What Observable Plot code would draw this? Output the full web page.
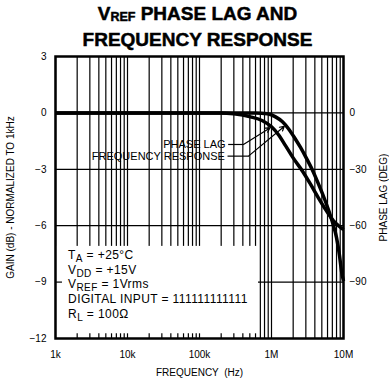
<!DOCTYPE html>
<html>
<head>
<meta charset="utf-8">
<script src="https://cdn.jsdelivr.net/npm/d3@7"></script>
<script src="https://cdn.jsdelivr.net/npm/@observablehq/plot@0.6"></script>
<style>
  body { margin: 0; background: #fff; width: 389px; height: 379px; overflow: hidden;
         font-family: "Liberation Sans", Arial, sans-serif; color: #000; }
  #title { height: 50px; box-sizing: border-box; padding-top: 2px; padding-left: 6px;
           text-align: center; font-weight: bold; font-size: 19px; line-height: 24px;
           -webkit-text-stroke: 0.5px #000; }
  #title .sub { font-size: 12.5px; position: relative; top: 1px; }
  #chart svg { display: block; }
</style>
</head>
<body>
<div id="title"><div>V<span class="sub">REF</span> PHASE LAG AND</div><div>FREQUENCY RESPONSE</div></div>
<div id="chart"></div>
<script>
// Axis ticks
const decadeTicks = [1e3, 1e4, 1e5, 1e6, 1e7];
const decadeLabels = ["1k", "10k", "100k", "1M", "10M"];
const gainTicks = [3, 0, -3, -6, -9, -12];
const phaseTicks = [0, -30, -60, -90];

// Frequency response (gain, dB, normalized to 1kHz)
const gainFreq = [1e3, 1e4, 1e5, 3e5, 6e5, 8.8e5, 1.137e6, 1.42e6, 1.72e6, 2.09e6, 2.53e6, 3.06e6,
                  3.71e6, 4.5e6, 5.45e6, 6.39e6, 7.26e6, 8.0e6, 8.8e6, 9.39e6, 1e7];
const gainDb = [0, 0, 0, 0, 0, -0.05, -0.21, -0.47, -0.84, -1.32, -1.84, -2.42,
                -3.05, -3.79, -4.58, -5.32, -6.0, -6.63, -7.58, -8.42, -8.95];

// Phase lag (degrees)
const phaseFreq = [1e3, 1e4, 1e5, 2e5, 3e5, 5.1e5, 7.5e5, 1e6, 1.25e6, 1.565e6, 2.02e6, 2.7e6,
                   3.48e6, 4.5e6, 5.8e6, 7.26e6, 8.53e6, 1e7];
const phaseDeg = [0, 0, 0, 0, -0.5, -2.1, -4.2, -7.4, -11.6, -17.4, -24.2, -31,
                  -37.9, -45.3, -52.1, -57.4, -60, -62.1];

// Test conditions: [main, subscript, rest]
const conditionLines = [
  ["T", "A", " = +25°C"],
  ["V", "DD", " = +15V"],
  ["V", "REF", " = 1Vrms"],
  ["DIGITAL INPUT = 111111111111", "", ""],
  ["R", "L", " = 100Ω"]
];

const gainLabel = "GAIN (dB) - NORMALIZED TO 1kHz";
const phaseLabel = "PHASE LAG (DEG)";
const freqLabel = "FREQUENCY  (Hz)";

// Phase shares the gain axis: 30 degrees per 3 dB division
const degToAxis = d => d / 10;
const minus = v => (v < 0 ? "\u2212" + Math.abs(v) : String(v));

const gain = gainFreq.map((f, i) => ({f, v: gainDb[i]}));
const phase = phaseFreq.map((f, i) => ({f, v: degToAxis(phaseDeg[i])}));

// Log grid: 1..9 in every decade
const gridFreqs = [];
for (let e = 3; e < 7; ++e) for (let m = 1; m < 10; ++m) gridFreqs.push(m * 10 ** e);
gridFreqs.push(1e7);

// Legend panel in the lower left (frequency / dB extents)
const panel = {x1: 1e3, x2: 6.6e5, y1: -12, y2: -7.1};
const panelTicks = gridFreqs.filter(f => f > 1e3 && f < panel.x2);

// Curve labels and their leaders
const curveLabels = [
  {text: "PHASE LAG", f: 2.3e5, v: -1.68},
  {text: "FREQUENCY RESPONSE", f: 2.25e5, v: -2.32}
];
const leaders = [
  {f0: 2.5e5, f1: 4.08e5, f2: 9.5e5, v0: -1.68, v2: -0.8},
  {f0: 2.45e5, f1: 4.79e5, f2: 1.5e6, v0: -2.3, v2: -0.72}
];

const condAnchor = {f: 1.52e3, v: -7.79};
const condStep = 14.8;

function conditionsMark(index, scales) {
  const x = scales.x(condAnchor.f), y0 = scales.y(condAnchor.v);
  const g = d3.create("svg:g")
    .attr("font-size", 12)
    .attr("letter-spacing", 0.4)
    .attr("text-anchor", "start")
    .attr("fill", "#000");
  conditionLines.forEach(([a, sub, rest], i) => {
    const t = g.append("text").attr("x", x).attr("y", y0 + i * condStep).attr("text-anchor", "start");
    t.append("tspan").text(a);
    if (sub) t.append("tspan").attr("dy", 3).attr("font-size", 10).text(sub);
    if (rest) t.append("tspan").attr("dy", sub ? -3 : 0).text(rest);
  });
  return g.node();
}

const chart = Plot.plot({
  width: 389,
  height: 329,
  marginTop: 6,
  marginBottom: 41,
  marginLeft: 55,
  marginRight: 46,
  style: {fontFamily: "'Liberation Sans', Arial, sans-serif", fontSize: "10px", background: "#fff", color: "#000"},
  x: {type: "log", domain: [1e3, 1e7], axis: null},
  y: {domain: [-12, 3], axis: null},
  marks: [
    Plot.ruleX(gridFreqs, {stroke: "#000", strokeWidth: 1.2}),
    Plot.ruleY([0, -3, -6, -9], {stroke: "#000", strokeWidth: 1.2}),
    Plot.rect([panel], {x1: "x1", x2: "x2", y1: "y1", y2: "y2", fill: "#fff"}),
    Plot.ruleX(panelTicks, {y1: -12, y2: -11.75, stroke: "#000", strokeWidth: 1.2}),
    Plot.ruleY([-9], {x1: 1e3, x2: 1.25e3, stroke: "#000", strokeWidth: 1.2}),
    Plot.line(phase, {x: "f", y: "v", curve: "monotone-x", stroke: "#000", strokeWidth: 3.5, strokeLinecap: "butt"}),
    Plot.line(gain, {x: "f", y: "v", curve: "monotone-x", stroke: "#000", strokeWidth: 3.5, strokeLinecap: "butt"}),
    Plot.link(leaders, {x1: "f0", x2: "f1", y1: "v0", y2: "v0", stroke: "#000", strokeWidth: 1.2}),
    Plot.arrow(leaders, {x1: "f1", y1: "v0", x2: "f2", y2: "v2", stroke: "#000", strokeWidth: 1.2, headLength: 6}),
    Plot.text(curveLabels, {x: "f", y: "v", text: "text", textAnchor: "end", lineAnchor: "middle", fontSize: 11, fill: "#000"}),
    conditionsMark,
    Plot.frame({stroke: "#000", strokeWidth: 2.5}),
    Plot.axisY(gainTicks, {anchor: "left", tickSize: 0, tickPadding: 9, tickFormat: minus, label: null, fontSize: 10}),
    Plot.axisY(phaseTicks.map(degToAxis), {anchor: "right", tickSize: 0, tickPadding: 6,
      tickFormat: d => minus(Math.round(d * 10)), label: null, fontSize: 10}),
    Plot.axisX(decadeTicks, {anchor: "bottom", tickSize: 0, tickPadding: 12,
      tickFormat: d => decadeLabels[Math.round(Math.log10(d)) - 3], label: null, fontSize: 10}),
    Plot.text([gainLabel], {text: d => d, frameAnchor: "left", dx: -45, rotate: -90, textAnchor: "middle",
      lineAnchor: "middle", fontSize: 10, fill: "#000", letterSpacing: 0.8}),
    Plot.text([phaseLabel], {text: d => d, frameAnchor: "right", dx: 40, rotate: -90, textAnchor: "middle",
      lineAnchor: "middle", fontSize: 10, fill: "#000", letterSpacing: 0.3}),
    Plot.text([freqLabel], {text: d => d, frameAnchor: "bottom", dy: 34, textAnchor: "middle",
      lineAnchor: "middle", fontSize: 10, fill: "#000", letterSpacing: 0.5})
  ]
});
document.getElementById("chart").append(chart);
</script>
</body>
</html>
